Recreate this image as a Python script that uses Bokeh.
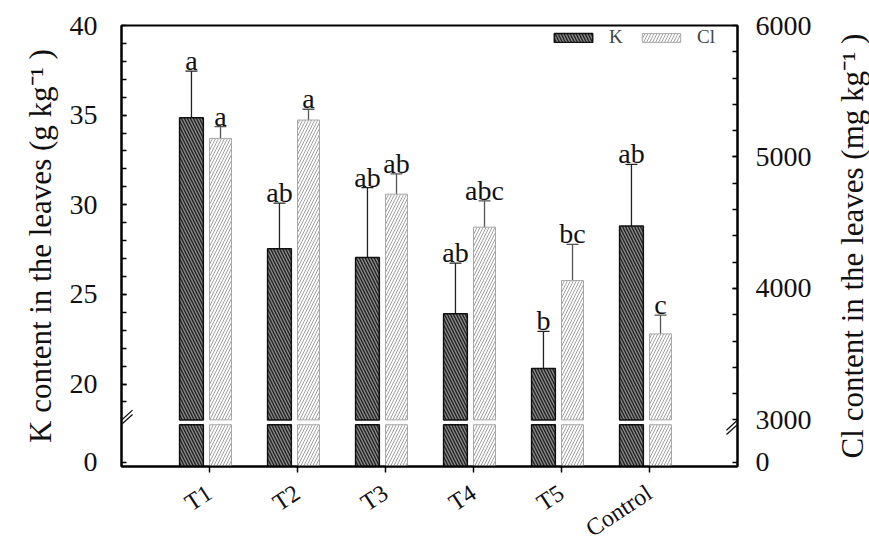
import math
from bokeh.plotting import figure
from bokeh.layouts import row, column
from bokeh.models import (Range1d, LinearAxis, FixedTicker, ColumnDataSource, Whisker, TeeHead,
                          Legend, LegendItem, Arrow)
from bokeh.core.properties import value
from bokeh.embed import file_html
from bokeh.resources import INLINE

# ---------------- data ----------------
categories = ["T1", "T2", "T3", "T4", "T5", "Control"]
k_values = [34.85, 27.55, 27.06, 23.92, 20.87, 28.81]
k_sd = [2.60, 2.54, 3.90, 2.82, 2.07, 3.44]
cl_values = [5141, 5281, 4717, 4466, 4060, 3654]
cl_sd = [90, 82, 155, 200, 275, 143]
k_letters = ["a", "ab", "ab", "ab", "b", "ab"]
cl_letters = ["a", "a", "ab", "abc", "bc", "c"]
k_ticks = [20, 25, 30, 35, 40]
cl_ticks = [3000, 4000, 5000, 6000]
k_title = "K content in the leaves (g kg\u207b\u00b9 )"
cl_title = "Cl content in the leaves (mg kg\u207b\u00b9 )"

# broken axis geometry
K_MIN, K_BREAK, K_MAX = 15.4, 18.0, 40.0
CL_BREAK, CL_MAX = 3000.0, 6000.0
cl_per_k = (CL_MAX - CL_BREAK) / (K_MAX - K_BREAK)
CL_MIN = CL_BREAK - (K_BREAK - K_MIN) * cl_per_k
GAP = 0.27
K_ZERO = K_MIN + 0.25                # where the "0" label of the broken axis sits
CL_ZERO = CL_MIN + 0.25 * cl_per_k

FONT_NAME = "Liberation Serif"
FONT = value(FONT_NAME)

xs = [i + 1 for i in range(len(categories))]
k_x = [x - 0.205 for x in xs]
cl_x = [x + 0.125 for x in xs]
k_top = [v + s for v, s in zip(k_values, k_sd)]
cl_top = [v + s for v, s in zip(cl_values, cl_sd)]
cl_low = [v - s for v, s in zip(cl_values, cl_sd)]

MAIN_W, MAIN_H = 833, 478
p = figure(width=MAIN_W, height=MAIN_H, x_range=Range1d(0, 7), y_range=Range1d(K_MIN, K_MAX),
           output_backend="svg", toolbar_location=None,
           min_border_left=121, min_border_right=96, min_border_top=25, min_border_bottom=12)
p.extra_y_ranges = {"cl": Range1d(CL_MIN, CL_MAX)}
p.grid.visible = False
p.outline_line_color = "black"
p.outline_line_width = 2
p.background_fill_color = "white"
p.border_fill_color = "white"

# ---------------- bars ----------------
k_style = dict(fill_color="#8a8a8a", line_color="#111111", line_width=1.5,
               hatch_pattern="\\", hatch_color="#222222", hatch_scale=6, hatch_weight=1.4)
cl_style = dict(fill_color="white", line_color="#a8a8a8", line_width=1,
                hatch_pattern="/", hatch_color="#a0a0a0", hatch_scale=6, hatch_weight=1)

rk = p.vbar(x=k_x, top=k_values, bottom=K_BREAK, width=0.27, **k_style)
p.vbar(x=k_x, top=K_BREAK - GAP, bottom=K_MIN, width=0.27, **k_style)
rc = p.vbar(x=cl_x, top=cl_values, bottom=CL_BREAK, width=0.25, y_range_name="cl", **cl_style)
p.vbar(x=cl_x, top=CL_BREAK - GAP * cl_per_k, bottom=CL_MIN, width=0.25, y_range_name="cl", **cl_style)

# ---------------- error bars ----------------
src_k = ColumnDataSource(dict(x=k_x, lower=k_values, upper=k_top))
p.add_layout(Whisker(source=src_k, base="x", lower="lower", upper="upper", dimension="height",
                     line_color="#222222", line_width=1.3, lower_head=None,
                     upper_head=TeeHead(size=12, line_color="#222222", line_width=1.3)))
src_c = ColumnDataSource(dict(x=cl_x, lower=cl_low, upper=cl_top))
p.add_layout(Whisker(source=src_c, base="x", lower="lower", upper="upper", dimension="height",
                     y_range_name="cl", line_color="#555555", line_width=1.3,
                     lower_head=TeeHead(size=12, line_color="#555555", line_width=1.3),
                     upper_head=TeeHead(size=12, line_color="#555555", line_width=1.3)))

# ---------------- significance letters ----------------
p.text(x=k_x, y=k_top, text=k_letters, text_align="center", text_baseline="bottom",
       text_font=FONT, text_font_size="28px", text_color="#111111", y_offset=5)
p.text(x=cl_x, y=cl_top, text=cl_letters, text_align="center", text_baseline="bottom",
       text_font=FONT, text_font_size="28px", text_color="#111111", y_offset=5, y_range_name="cl")

# ---------------- axes ----------------
xa = p.xaxis[0]
xa.ticker = FixedTicker(ticks=xs)
xa.major_label_overrides = {x: "" for x in xs}
xa.major_label_text_font_size = "0px"
xa.major_label_standoff = 0
xa.axis_line_width = 2
xa.major_tick_in = 0
xa.major_tick_out = 6
xa.major_tick_line_width = 1.5
xa.minor_tick_line_color = None

ya = p.yaxis[0]
ya.ticker = FixedTicker(ticks=[K_ZERO] + k_ticks, minor_ticks=list(range(19, 40)))
ya.major_label_overrides = {K_ZERO: "0"}
ya.axis_label = k_title
ya.axis_label_text_font = FONT_NAME
ya.axis_label_text_font_size = "31px"
ya.axis_label_text_font_style = "normal"
ya.axis_label_text_color = "#111111"
ya.axis_label_standoff = 9

ra = LinearAxis(y_range_name="cl")
ra.ticker = FixedTicker(ticks=[CL_ZERO] + cl_ticks, minor_ticks=list(range(3200, 6000, 200)))
ra.major_label_overrides = {CL_ZERO: "0"}
p.add_layout(ra, "right")

for ax, so in ((ya, 24), (ra, 18)):
    ax.axis_line_width = 2
    ax.major_tick_in = 5
    ax.major_tick_out = 0
    ax.minor_tick_in = 5
    ax.minor_tick_out = 0
    ax.major_tick_line_width = 1.5
    ax.minor_tick_line_width = 1.5
    ax.major_label_standoff = so
    ax.major_label_text_font = FONT_NAME
    ax.major_label_text_font_size = "28px"
    ax.major_label_text_color = "#111111"

# ---------------- axis break marks ----------------
brk = K_BREAK - GAP / 2
dx, dy, sep = 0.125, 0.56, 0.12
bx0, bx1, by0, by1 = [], [], [], []
for xc in (0.0, 7.0):
    for s in (-sep, sep):
        bx0.append(xc - dx); bx1.append(xc + dx)
        by0.append(brk - dy + s); by1.append(brk + dy + s)
brk_src = ColumnDataSource(dict(x0=bx0, x1=bx1, y0=by0, y1=by1))
p.add_layout(Arrow(source=brk_src, x_start="x0", y_start="y0", x_end="x1", y_end="y1",
                   start=None, end=None, line_color="#111111", line_width=1.3))

# ---------------- legend ----------------
legend = Legend(items=[LegendItem(label="K", renderers=[rk]), LegendItem(label="Cl", renderers=[rc])],
                orientation="horizontal", location=(428, 418), glyph_width=48, glyph_height=11,
                label_text_font=FONT_NAME, label_text_font_size="19px",
                label_standoff=12, spacing=8, padding=0, margin=0,
                border_line_alpha=0, background_fill_alpha=0)
p.add_layout(legend)

# ---------------- category labels (strip under the x axis) ----------------
px = figure(width=MAIN_W, height=542 - MAIN_H, x_range=p.x_range, y_range=Range1d(0, 1),
            output_backend="svg", toolbar_location=None, x_axis_type=None, y_axis_type=None,
            min_border_left=121, min_border_right=96, min_border_top=0, min_border_bottom=0)
px.grid.visible = False
px.outline_line_color = None
px.text(x=xs, y=[1] * len(xs), text=categories, angle=0.58, text_align="right",
        text_baseline="middle", y_offset=12, text_font=FONT, text_font_size="24px",
        text_color="#111111")

# ---------------- right axis title ----------------
pr = figure(width=869 - MAIN_W, height=542, x_range=Range1d(0, 1), y_range=Range1d(0, 1),
            output_backend="svg", toolbar_location=None, x_axis_type=None, y_axis_type=None,
            min_border_left=0, min_border_right=0, min_border_top=25, min_border_bottom=76)
pr.grid.visible = False
pr.outline_line_color = None
pr.text(x=[0.5], y=[0.5], text=[cl_title], angle=math.pi / 2, text_align="center",
        text_baseline="middle", x_offset=1, text_font=FONT, text_font_size="31px",
        text_color="#111111")

layout = row(column(p, px), pr)
open("out.html", "w").write(file_html(layout, INLINE))
